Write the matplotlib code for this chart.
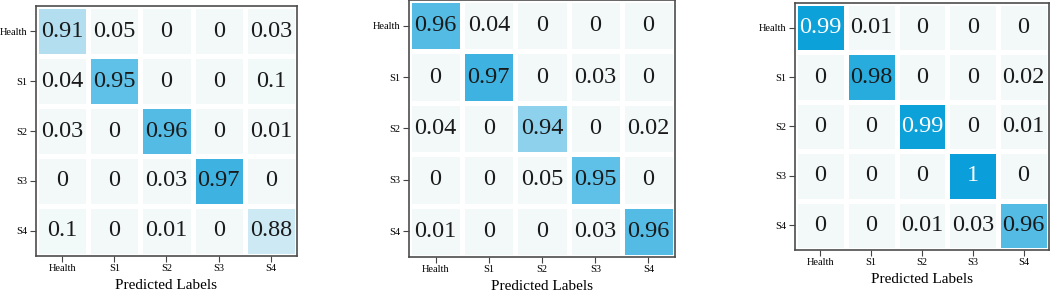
import numpy as np
import matplotlib
matplotlib.use("Agg")
import matplotlib.pyplot as plt
from matplotlib.colors import LinearSegmentedColormap

labels = ["Health", "S1", "S2", "S3", "S4"]

cm_a = [[0.91, 0.05, 0, 0, 0.03],
        [0.04, 0.95, 0, 0, 0.1],
        [0.03, 0, 0.96, 0, 0.01],
        [0, 0, 0.03, 0.97, 0],
        [0.1, 0, 0.01, 0, 0.88]]
cm_b = [[0.96, 0.04, 0, 0, 0],
        [0, 0.97, 0, 0.03, 0],
        [0.04, 0, 0.94, 0, 0.02],
        [0, 0, 0.05, 0.95, 0],
        [0.01, 0, 0, 0.03, 0.96]]
cm_c = [[0.99, 0.01, 0, 0, 0],
        [0, 0.98, 0, 0, 0.02],
        [0, 0, 0.99, 0, 0.01],
        [0, 0, 0, 1, 0],
        [0, 0, 0.01, 0.03, 0.96]]
xlabel = "Predicted Labels"

cmap = LinearSegmentedColormap.from_list("cm", [
    (0.0, "#f3f9f9"), (0.85, "#edf7f9"), (0.88, "#cfeaf3"), (0.91, "#b3def0"),
    (0.94, "#92d3ec"), (0.95, "#64c3e8"), (0.97, "#45b5e1"), (0.99, "#0ea1da"),
    (1.0, "#0a9fda")])

fig = plt.figure(figsize=(10.52, 2.93), dpi=100)
rects = [[0.0342, 0.1263, 0.2481, 0.8532],
         [0.3888, 0.1229, 0.2529, 0.8771],
         [0.7557, 0.1468, 0.2414, 0.8430]]
serif = "Liberation Serif"

for rect, mat in zip(rects, [cm_a, cm_b, cm_c]):
    ax = fig.add_axes(rect)
    data = np.array(mat, dtype=float)
    n = data.shape[0]
    ax.pcolormesh(np.arange(n + 1), np.arange(n + 1), data, cmap=cmap,
                  vmin=0, vmax=1, edgecolors="white", linewidth=3.6)
    ax.set_xlim(0, n)
    ax.set_ylim(n, 0)
    for i in range(n):
        for j in range(n):
            v = data[i, j]
            txt = f"{v:g}"
            col = "white" if v >= 0.985 else "#1a1a1a"
            ax.text(j + 0.5, i + 0.5, txt, ha="center", va="center",
                    fontsize=17.5, family=serif, color=col)
    ax.set_xticks(np.arange(n) + 0.5)
    ax.set_yticks(np.arange(n) + 0.5)
    ax.set_xticklabels(labels, family=serif, fontsize=7.5)
    ax.set_yticklabels(labels, family=serif, fontsize=7.5)
    ax.tick_params(length=4, width=0.8, color="#444444", pad=2)
    ax.set_xlabel(xlabel, family=serif, fontsize=11, labelpad=4)
    for s in ax.spines.values():
        s.set_color("#4d4d4d")
        s.set_linewidth(1.2)

fig.savefig("out.png", dpi=100)
